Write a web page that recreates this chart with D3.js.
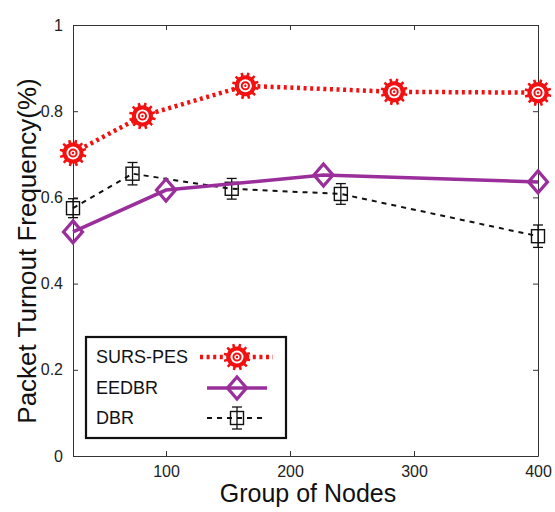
<!DOCTYPE html>
<html><head><meta charset="utf-8">
<script src="https://cdn.jsdelivr.net/npm/d3@7"></script>
<style>body{margin:0;background:#fff;} svg{display:block;font-family:"Liberation Sans",Arial,sans-serif;}</style>
</head><body>
<svg id="c" width="555" height="512"></svg>
<script>
const xTicks = [100, 200, 300, 400];
const yTicks = [0, 0.2, 0.4, 0.6, 0.8, 1];
const yTickLabels = ["0", "0.2", "0.4", "0.6", "0.8", "1"];

const sursNodes = [25, 81, 164, 284, 400];
const sursValues = [0.703, 0.789, 0.859, 0.845, 0.843];

const eedbrNodes = [25, 100, 227, 400];
const eedbrValues = [0.520, 0.617, 0.652, 0.636];

const dbrNodes = [25, 73, 153, 241, 400];
const dbrValues = [0.575, 0.655, 0.620, 0.608, 0.510];
const dbrErrors = [0.022, 0.026, 0.024, 0.024, 0.026];

const seriesNames = ["SURS-PES", "EEDBR", "DBR"];

const svg = d3.select("#c");
const L = 73, R = 538, T = 25, B = 456;
const x = d3.scaleLinear().domain([25, 400]).range([L, R]);
const y = d3.scaleLinear().domain([0, 1]).range([B, T]);
const axisColor = "#333";
const red = "#f21010", purple = "#9a2f9b";

// axes box
const ax = svg.append("g");
ax.append("g").attr("transform", `translate(0,${B})`)
  .call(d3.axisBottom(x).tickValues(xTicks).tickSizeInner(-5).tickSizeOuter(0).tickPadding(10))
  .call(g => { g.select(".domain").attr("stroke", axisColor); g.selectAll("line").attr("stroke", axisColor);
    g.selectAll("text").attr("font-size", 16).attr("fill", "#222").attr("font-family", "Liberation Sans, Arial"); });
ax.append("g").attr("transform", `translate(0,${T})`)
  .call(d3.axisTop(x).tickValues(xTicks).tickSizeInner(-5).tickSizeOuter(0).tickFormat(""))
  .call(g => { g.select(".domain").attr("stroke", axisColor); g.selectAll("line").attr("stroke", axisColor); });
ax.append("g").attr("transform", `translate(${L},0)`)
  .call(d3.axisLeft(y).tickValues(yTicks).tickSizeInner(-5).tickSizeOuter(0).tickPadding(10)
    .tickFormat((d, i) => yTickLabels[i]))
  .call(g => { g.select(".domain").attr("stroke", axisColor); g.selectAll("line").attr("stroke", axisColor);
    g.selectAll("text").attr("font-size", 16).attr("fill", "#222").attr("font-family", "Liberation Sans, Arial"); });
ax.append("g").attr("transform", `translate(${R},0)`)
  .call(d3.axisRight(y).tickValues(yTicks).tickSizeInner(-5).tickSizeOuter(0).tickFormat(""))
  .call(g => { g.select(".domain").attr("stroke", axisColor); g.selectAll("line").attr("stroke", axisColor); });

// titles
svg.append("text").attr("x", 308).attr("y", 502).attr("text-anchor", "middle")
  .attr("font-size", 25).attr("fill", "#111").text("Group of Nodes");
svg.append("text").attr("transform", "translate(36,251) rotate(-90)").attr("text-anchor", "middle")
  .attr("font-size", 26).attr("fill", "#111").text("Packet Turnout Frequency(%)");

// marker helpers
function gearPath(n, ro, ri) {
  const pts = [];
  for (let i = 0; i < n; i++) {
    const a0 = (i / n) * 2 * Math.PI;
    const w = (2 * Math.PI / n);
    const angs = [[a0, ri], [a0 + w * 0.2, ri], [a0 + w * 0.28, ro], [a0 + w * 0.62, ro], [a0 + w * 0.7, ri]];
    angs.forEach(([a, r]) => pts.push([r * Math.cos(a), r * Math.sin(a)]));
  }
  return "M" + pts.map(p => p[0].toFixed(2) + "," + p[1].toFixed(2)).join("L") + "Z";
}
function drawGear(g, cx, cy) {
  const m = g.append("g").attr("transform", `translate(${cx},${cy})`);
  m.append("path").attr("d", gearPath(12, 13.5, 10.5)).attr("fill", red);
  m.append("circle").attr("r", 6.5).attr("fill", "#fff");
  m.append("circle").attr("r", 3.6).attr("fill", "none").attr("stroke", red).attr("stroke-width", 2);
  m.append("circle").attr("r", 1.2).attr("fill", red);
}
function drawDiamond(g, cx, cy) {
  g.append("path").attr("d", `M${cx},${cy - 11}L${cx + 9.5},${cy}L${cx},${cy + 11}L${cx - 9.5},${cy}Z`)
    .attr("fill", "#fff").attr("fill-opacity", 0).attr("stroke", purple).attr("stroke-width", 3.2);
}
function drawSquare(g, cx, cy, yTop, yBot) {
  g.append("line").attr("x1", cx).attr("x2", cx).attr("y1", yTop).attr("y2", yBot).attr("stroke", "#111").attr("stroke-width", 1.3);
  g.append("line").attr("x1", cx - 5).attr("x2", cx + 5).attr("y1", yTop).attr("y2", yTop).attr("stroke", "#111").attr("stroke-width", 1.3);
  g.append("line").attr("x1", cx - 5).attr("x2", cx + 5).attr("y1", yBot).attr("y2", yBot).attr("stroke", "#111").attr("stroke-width", 1.3);
  g.append("rect").attr("x", cx - 6.5).attr("y", cy - 6.5).attr("width", 13).attr("height", 13)
    .attr("fill", "none").attr("stroke", "#111").attr("stroke-width", 1.4);
}

const line = d3.line().x(d => x(d[0])).y(d => y(d[1]));
const plot = svg.append("g");

// DBR
const dbrData = dbrNodes.map((n, i) => [n, dbrValues[i]]);
plot.append("path").attr("d", line(dbrData)).attr("fill", "none").attr("stroke", "#111")
  .attr("stroke-width", 2).attr("stroke-dasharray", "5,5");
dbrData.forEach((d, i) => drawSquare(plot, x(d[0]), y(d[1]), y(d[1] + dbrErrors[i]), y(d[1] - dbrErrors[i])));

// EEDBR
const eeData = eedbrNodes.map((n, i) => [n, eedbrValues[i]]);
plot.append("path").attr("d", line(eeData)).attr("fill", "none").attr("stroke", purple).attr("stroke-width", 3.5);
eeData.forEach(d => drawDiamond(plot, x(d[0]), y(d[1])));

// SURS-PES
const sData = sursNodes.map((n, i) => [n, sursValues[i]]);
plot.append("path").attr("d", line(sData)).attr("fill", "none").attr("stroke", red)
  .attr("stroke-width", 4.5).attr("stroke-dasharray", "3,3.6");
sData.forEach(d => drawGear(plot, x(d[0]), y(d[1])));

// legend
const lg = svg.append("g");
lg.append("rect").attr("x", 86).attr("y", 337).attr("width", 200).attr("height", 101)
  .attr("fill", "#fff").attr("stroke", "#111").attr("stroke-width", 2.2);
const rows = [357, 388, 418];
rows.forEach((ry, i) => {
  lg.append("text").attr("x", 96).attr("y", ry).attr("dy", "0.35em").attr("font-size", 18)
    .attr("fill", "#111").text(seriesNames[i]);
});
const lx = 237;
lg.append("line").attr("x1", 200).attr("x2", 273).attr("y1", rows[0]).attr("y2", rows[0])
  .attr("stroke", red).attr("stroke-width", 4.5).attr("stroke-dasharray", "3,3.6");
drawGear(lg, lx, rows[0]);
lg.append("line").attr("x1", 207).attr("x2", 267).attr("y1", rows[1]).attr("y2", rows[1])
  .attr("stroke", purple).attr("stroke-width", 3.5);
drawDiamond(lg, lx, rows[1]);
lg.append("line").attr("x1", 207).attr("x2", 267).attr("y1", rows[2]).attr("y2", rows[2])
  .attr("stroke", "#111").attr("stroke-width", 2).attr("stroke-dasharray", "5,5");
drawSquare(lg, lx, rows[2], rows[2] - 11, rows[2] + 11);
</script>
</body></html>
